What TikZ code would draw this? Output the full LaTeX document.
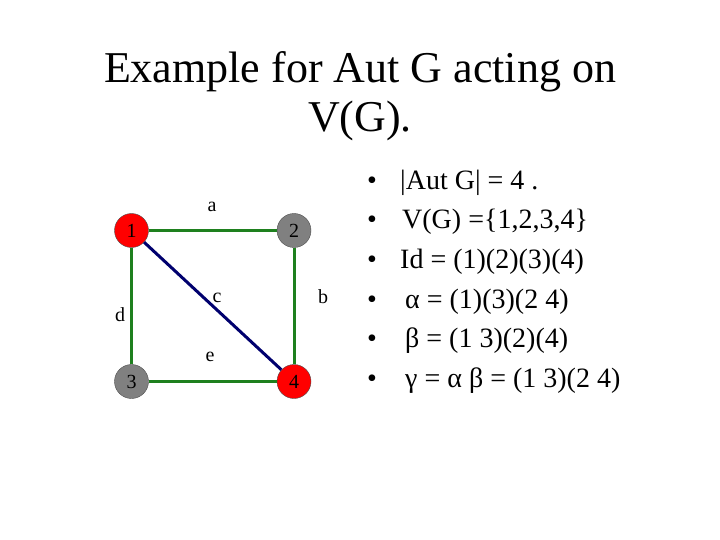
\documentclass[tikz,border=0pt]{standalone}
\usepackage{fontspec}
\setmainfont{Liberation Serif}
\usetikzlibrary{positioning}
\definecolor{rojo}{RGB}{255, 0, 0}
\definecolor{gris}{RGB}{128, 128, 128}
\definecolor{verde}{RGB}{30, 128, 30}
\definecolor{azul}{RGB}{0, 0, 110}

\begin{document}
\begin{tikzpicture}[x=1pt, y=-1pt,
  vertice/.style={circle, draw=black!70, thin, minimum size=34pt, inner sep=0pt, font=\fontsize{20}{24}\selectfont},
  arista/.style={line width=3pt, verde},
  etiqueta/.style={inner sep=0pt, font=\fontsize{20}{24}\selectfont},
  punto/.style={anchor=base west, inner sep=0pt, font=\fontsize{28}{34}\selectfont}]
            \useasboundingbox (0,0) rectangle (720,540);

            % Titulo
            \node[anchor=base, inner sep=0pt, font=\fontsize{44}{48}\selectfont] (titulo1) at (360,83) {Example for Aut G acting on};
            \node[anchor=base, inner sep=0pt, font=\fontsize{44}{48}\selectfont] (titulo2) at (360,131.5) {V(G).};

            % Vertices
            \node[vertice, fill=rojo] (v1) at (131.5,230.5) {1};
            \node[vertice, fill=gris, right of=v1, node distance=162.5pt] (v2) {2};
            \node[vertice, fill=gris, below of=v1, node distance=151pt] (v3) {3};
            \node[vertice, fill=rojo, right of=v3, node distance=162.5pt] (v4) {4};

            % Aristas
            \draw[arista] (v1) -- (v2);
            \draw[arista] (v2) -- (v4);
            \draw[arista] (v4) -- (v3);
            \draw[arista] (v3) -- (v1);
            \draw[line width=3pt, azul] (v1) -- (v4);

            % Etiquetas
            \node[etiqueta] (la) at (212,207) {a};
            \node[etiqueta] (lb) at (323,297) {b};
            \node[etiqueta] (lc) at (217,298) {c};
            \node[etiqueta] (ld) at (120,315) {d};
            \node[etiqueta] (le) at (210,357) {e};

            % Lista
            \node[punto] (p1) at (367,190) {•};
            \node[punto] (p2) at (367,229) {•};
            \node[punto] (p3) at (367,268) {•};
            \node[punto] (p4) at (367,308) {•};
            \node[punto] (p5) at (367,347) {•};
            \node[punto] (p6) at (367,387) {•};
            \node[punto] (t1) at (400,190) {|Aut G| = 4 .};
            \node[punto] (t2) at (402,229) {V(G) =\{1,2,3,4\}};
            \node[punto] (t3) at (400,268) {Id = (1)(2)(3)(4)};
            \node[punto] (t4) at (405,308) {α = (1)(3)(2 4)};
            \node[punto] (t5) at (405,347) {β = (1 3)(2)(4)};
            \node[punto] (t6) at (405,387) {γ = α β = (1 3)(2 4)};
        \end{tikzpicture}
\end{document}
